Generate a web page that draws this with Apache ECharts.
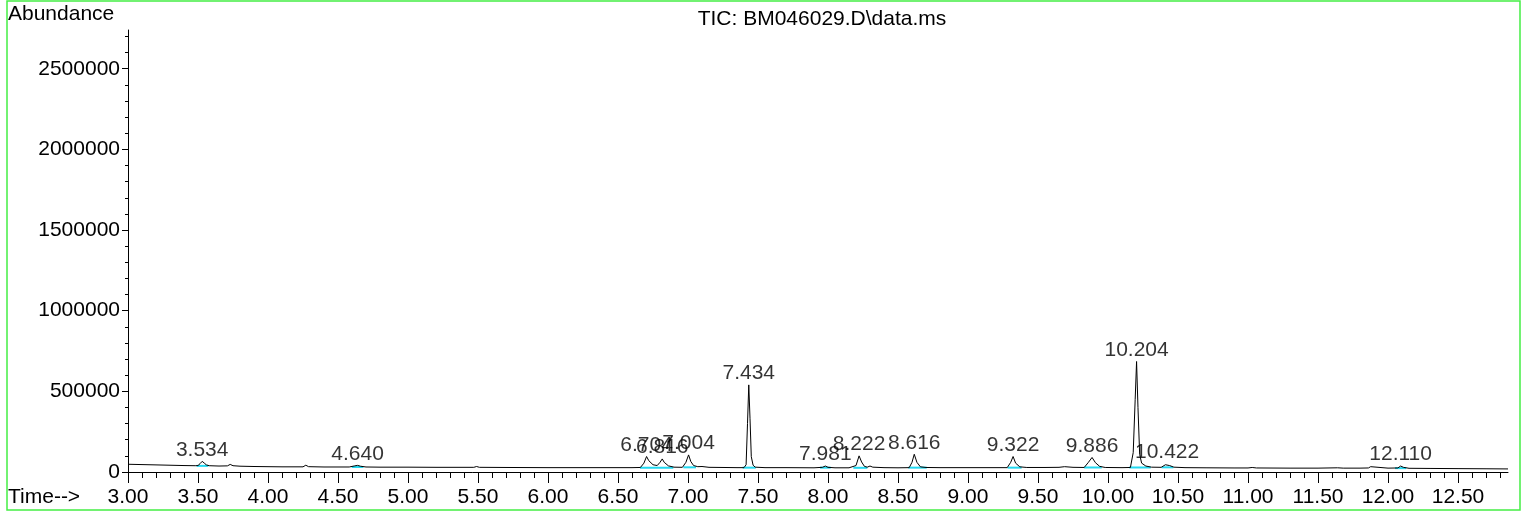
<!DOCTYPE html>
<html>
<head>
<meta charset="utf-8">
<script src="https://cdn.jsdelivr.net/npm/echarts@6/dist/echarts.min.js"></script>
<style>
html,body{margin:0;padding:0;background:#fff;}
#chart{width:1526px;height:512px;}
</style>
</head>
<body>
<div id="chart"></div>
<script>
// Chromatogram trace (time in min, abundance)
const times = [
  3.00,3.10,3.20,3.30,3.40,3.48,3.50,3.515,3.53,3.545,3.56,3.58,3.65,3.71,3.73,3.75,3.80,3.90,
  4.00,4.10,4.20,4.25,4.27,4.29,4.40,4.50,4.58,4.62,4.64,4.66,4.70,4.80,5.00,5.20,5.40,5.47,5.49,5.51,5.70,
  6.00,6.20,6.40,6.60,6.66,6.685,6.704,6.72,6.75,6.78,6.80,6.816,6.83,6.86,6.90,6.96,6.985,7.004,7.02,7.04,7.07,7.10,7.15,7.25,7.35,
  7.40,7.415,7.425,7.434,7.443,7.452,7.465,7.48,7.55,7.70,7.90,7.96,7.981,8.00,8.05,8.15,8.20,8.222,8.24,8.26,8.28,8.30,8.32,8.40,8.50,
  8.58,8.60,8.616,8.635,8.66,8.70,8.80,9.00,9.20,9.28,9.305,9.322,9.34,9.37,9.42,9.55,9.65,9.69,9.75,9.83,9.86,9.886,9.91,9.94,9.98,
  10.10,10.16,10.18,10.194,10.204,10.214,10.226,10.24,10.27,10.31,10.38,10.41,10.422,10.44,10.47,10.55,10.70,10.90,11.00,11.03,11.06,
  11.30,11.50,11.64,11.68,11.80,11.86,11.876,11.89,12.00,12.07,12.09,12.11,12.15,12.30,12.50,12.70,12.857
];
const abundance = [
  48000,46000,44000,42000,40000,39000,40000,52000,66000,55000,44000,39000,37000,38000,47000,39000,36000,34000,
  33000,32000,32000,32000,42000,33000,31000,31000,31000,38000,41000,36000,31000,30000,30000,29000,29000,29000,34000,29000,28000,
  27000,27000,27000,27000,28000,55000,96000,70000,45000,40000,60000,81000,60000,38000,30000,29000,60000,106000,65000,40000,33000,34000,29000,28000,27000,
  27000,45000,300000,540000,330000,95000,42000,30000,27000,27000,26000,29000,37000,29000,26000,26000,40000,100000,62000,35000,30000,37000,30000,27000,26000,
  27000,60000,110000,60000,32000,28000,27000,27000,27000,27000,60000,96000,55000,32000,28000,28000,29000,33000,29000,28000,60000,90000,58000,35000,28000,
  27000,28000,120000,450000,685000,400000,110000,55000,37000,30000,29000,45000,50000,40000,30000,27000,26000,25000,25000,28000,25000,
  24000,24000,26000,24000,24000,25000,33000,25000,24000,25000,37000,29000,23000,22000,21000,20000,19000
];

// Labelled peaks
const peakLabels = ['3.534','4.640','6.704','6.816','7.004','7.434','7.981','8.222','8.616','9.322','9.886','10.204','10.422','12.110'];
const peakTimes  = [3.530,4.640,6.704,6.816,7.004,7.434,7.981,8.222,8.616,9.322,9.886,10.204,10.422,12.090];
const peakHeights= [66000,41000,96000,81000,106000,540000,37000,100000,110000,96000,90000,685000,50000,37000];

// Integration baselines (cyan)
const intStart = [3.49,4.598,6.657,6.967,7.390,7.943,8.181,8.574,9.283,9.829,10.152,10.383,12.05];
const intEnd   = [3.574,4.681,6.895,7.057,7.484,8.019,8.281,8.705,9.383,9.955,10.305,10.467,12.13];
const intLevel = [38000,31000,27000,29000,27000,27000,26000,27000,27000,28000,28000,29000,24000];

// Axis ticks
const xMin = 3.0, xMax = 12.857, yMin = 0, yMax = 2740000;
const xMajor = [], xMinor = [], yMajor = [], yMinor = [];
for (let i = 0; i <= 19; i++) xMajor.push(+(3 + i * 0.5).toFixed(2));
for (let i = 0; i <= 98; i++) xMinor.push(+(3 + i * 0.1).toFixed(2));
for (let i = 0; i <= 5; i++) yMajor.push(i * 500000);
for (let i = 0; i <= 27; i++) yMinor.push(i * 100000);

const FONT = 'Liberation Sans';
const FS = 21;
const signal = times.map((t, i) => [t, abundance[i]]);
const cyanSeries = intStart.map((s, i) => ({
  type: 'line', data: [[s, intLevel[i]], [intEnd[i], intLevel[i]]], showSymbol: false,
  lineStyle: { color: '#22d8f0', width: 2 }, z: 2, silent: true
}));
const peaks = peakTimes.map((t, i) => ({ value: [t, peakHeights[i]], name: peakLabels[i] }));

const chart = echarts.init(document.getElementById('chart'), null, { renderer: 'canvas' });
const axisLineStyle = { color: '#000', width: 1 };
chart.setOption({
  animation: false,
  backgroundColor: '#fff',
  textStyle: { fontFamily: FONT },
  title: {
    text: 'TIC: BM046029.D\\data.ms',
    left: 817, top: 4, textAlign: 'center',
    textStyle: { fontFamily: FONT, fontSize: FS, fontWeight: 'normal', color: '#000' }
  },
  grid: { left: 128, right: 18, top: 30, bottom: 40, containLabel: false },
  xAxis: [
    {
      type: 'value', min: xMin, max: xMax, position: 'bottom',
      axisLine: { show: true, lineStyle: axisLineStyle },
      axisTick: { show: true, customValues: xMajor, length: 11, lineStyle: { color: '#000' } },
      axisLabel: { customValues: xMajor, formatter: v => v.toFixed(2), color: '#000', fontFamily: FONT, fontSize: FS, margin: 15 },
      splitLine: { show: false }
    },
    {
      type: 'value', min: xMin, max: xMax, position: 'bottom',
      axisLine: { show: false },
      axisTick: { show: true, customValues: xMinor, length: 6, lineStyle: { color: '#000' } },
      axisLabel: { show: false },
      splitLine: { show: false }
    }
  ],
  yAxis: [
    {
      type: 'value', min: yMin, max: yMax, position: 'left',
      axisLine: { show: true, lineStyle: axisLineStyle },
      axisTick: { show: true, customValues: yMajor, length: 6, lineStyle: { color: '#000' } },
      axisLabel: { customValues: yMajor, formatter: v => String(v), color: '#000', fontFamily: FONT, fontSize: FS, margin: 8 },
      splitLine: { show: false }
    },
    {
      type: 'value', min: yMin, max: yMax, position: 'left',
      axisLine: { show: false },
      axisTick: { show: true, customValues: yMinor, length: 3, lineStyle: { color: '#000' } },
      axisLabel: { show: false },
      splitLine: { show: false }
    }
  ],
  graphic: [
    { type: 'rect', shape: { x: 7, y: 1, width: 1513, height: 509 }, style: { fill: 'none', stroke: '#44ee44', lineWidth: 1.5 }, z: 100 },
    { type: 'text', left: 8, top: 4, style: { text: 'Abundance', font: FS + 'px "Liberation Sans"', fill: '#000' } },
    { type: 'text', left: 8, top: 487, style: { text: 'Time-->', font: FS + 'px "Liberation Sans"', fill: '#000' } }
  ],
  series: cyanSeries.concat([
    {
      type: 'line', data: signal, showSymbol: false,
      lineStyle: { color: '#000', width: 1 }, z: 3, silent: true
    },
    {
      type: 'scatter', data: peaks, symbolSize: 0, z: 4, silent: true,
      label: { show: true, position: 'top', distance: 1, formatter: p => p.name, color: '#000', fontFamily: FONT, fontSize: FS }
    }
  ])
});
</script>
</body>
</html>
